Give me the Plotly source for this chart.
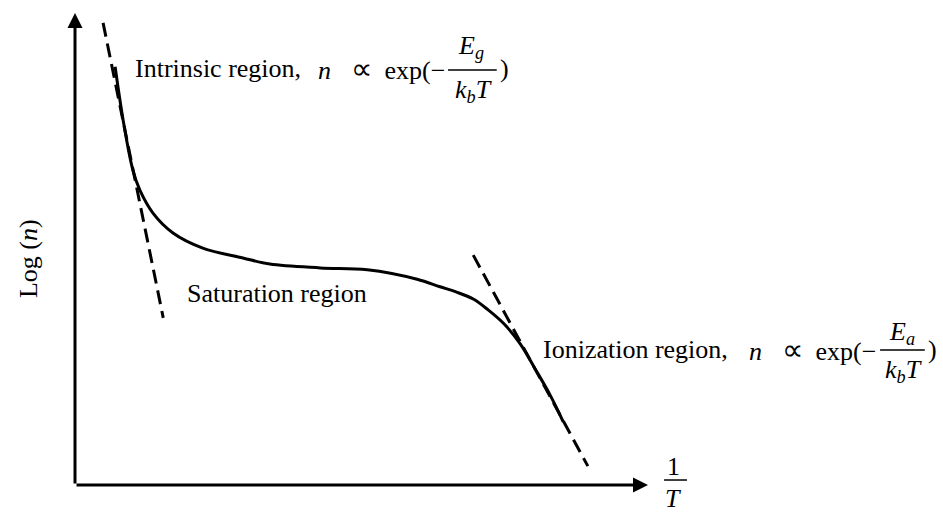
import plotly.graph_objects as go

# Schematic carrier concentration: log(n) against 1/T (arbitrary units)
inv_t = [0.70, 0.84, 1.01, 1.13, 1.36, 1.71, 2.23, 2.93, 3.40, 4.28,
         5.10, 5.97, 6.37, 6.65, 6.95, 7.21, 7.49, 7.77, 8.03, 8.29,
         8.52]
log_n = [8.86, 7.73, 6.67, 6.25, 5.76, 5.34, 5.02, 4.81, 4.68, 4.60,
         4.56, 4.36, 4.20, 4.09, 3.94, 3.71, 3.41, 2.99, 2.46, 1.91,
         1.34]

# Straight-line asymptotes of the two activated regions
intrinsic_x = [0.49, 1.54]
intrinsic_y = [9.79, 3.54]
ionization_x = [6.95, 8.95]
ionization_y = [4.87, 0.40]

# Axis arrow lengths
x_axis_len = 10.0
y_axis_len = 10.0

SERIF = "Liberation Serif"
FS = 26
BLACK = "#000000"
PROP = "<i>n</i>\u2002 <span style='font-size:30px'>\u221d</span>\u2002exp(\u2212"

fig = go.Figure()

fig.add_trace(go.Scatter(
    x=intrinsic_x, y=intrinsic_y, mode="lines",
    line=dict(color=BLACK, width=3, dash="14px,7px"), hoverinfo="skip"))
fig.add_trace(go.Scatter(
    x=ionization_x, y=ionization_y, mode="lines",
    line=dict(color=BLACK, width=3, dash="14px,7px"), hoverinfo="skip"))
fig.add_trace(go.Scatter(
    x=inv_t, y=log_n, mode="lines",
    line=dict(color=BLACK, width=3, shape="spline", smoothing=1.0),
    hoverinfo="skip"))


def txt(x, y, text, xanchor="center", size=FS, angle=0):
    fig.add_annotation(x=x, y=y, xref="x", yref="y", text=text,
                       showarrow=False, xanchor=xanchor, yanchor="middle",
                       textangle=angle,
                       font=dict(family=SERIF, size=size, color=BLACK))


def frac_bar(x0, x1, y):
    fig.add_shape(type="line", xref="x", yref="y", x0=x0, x1=x1, y0=y, y1=y,
                  line=dict(color=BLACK, width=1.5))


# Axes drawn as arrows from the origin
for tip in [(x_axis_len, 0.0), (0.0, y_axis_len)]:
    fig.add_annotation(x=tip[0], y=tip[1], ax=0, ay=0, xref="x", yref="y",
                       axref="x", ayref="y", text="", showarrow=True,
                       arrowhead=2, arrowsize=1, arrowwidth=3,
                       arrowcolor=BLACK)

# Axis labels
txt(-0.80, 4.79, "Log (<i>n</i>)", angle=-90)
txt(10.45, 0.40, "1")
frac_bar(10.28, 10.68, 0.106)
txt(10.44, -0.28, "<i>T</i>")

# Intrinsic region label
txt(1.01, 8.83, "Intrinsic region,", xanchor="left")
txt(6.49, 8.83, PROP, xanchor="right")
txt(6.91, 9.28, "<i>E</i><sub><i>g</i></sub>")
frac_bar(6.51, 7.36, 8.79)
txt(6.95, 8.35, "<i>k</i><sub><i>b</i></sub><i>T</i>")
txt(7.49, 8.83, ")")

# Saturation region label
txt(1.92, 4.05, "Saturation region", xanchor="left")

# Ionization region label
txt(8.13, 2.88, "Ionization region,", xanchor="left")
txt(14.01, 2.88, PROP, xanchor="right")
txt(14.43, 3.22, "<i>E</i><sub><i>a</i></sub>")
frac_bar(14.05, 14.83, 2.86)
txt(14.45, 2.42, "<i>k</i><sub><i>b</i></sub><i>T</i>")
txt(14.96, 2.88, ")")

fig.update_layout(
    width=943, height=513,
    margin=dict(l=0, r=0, t=0, b=0),
    paper_bgcolor="white", plot_bgcolor="white",
    showlegend=False,
    xaxis=dict(range=[-1.309, 15.148], visible=False, fixedrange=True),
    yaxis=dict(range=[-0.593, 10.275], visible=False, fixedrange=True),
)

fig.write_html("out.html")
